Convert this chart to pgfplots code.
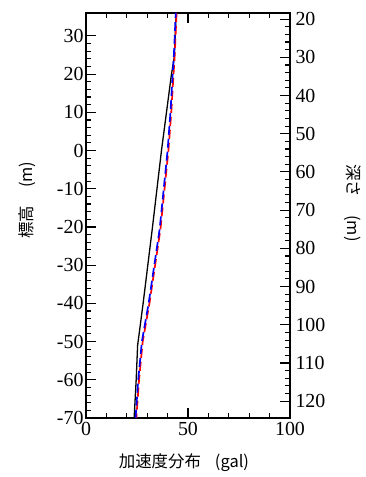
\documentclass[border=0pt]{standalone}
\usepackage{fontspec}
\setmainfont{Liberation Serif}
\newfontfamily\jp{Noto Sans CJK JP}
\usepackage{pgfplots}
\pgfplotsset{compat=1.18}
\begin{document}
\begin{tikzpicture}
\pgfplotsset{
  common/.style={
    scale only axis, width=204bp, height=405bp, at={(0,0)}, anchor=south west,
    tick align=inside, major tick length=10bp, minor tick length=5bp,
    every tick/.style={line width=1.1pt, black},
    axis line style={line width=1.2pt},
    /pgf/number format/assume math mode=true,
    tick label style={font=\fontsize{20}{20}\selectfont},
    xmin=0, xmax=100,
  }
}
\begin{axis}[common,
  ymin=-70, ymax=36,
  xtick={0,50,100}, minor x tick num=4,
  xtick pos=both, xticklabel pos=bottom,
  ytick={-70,-60,...,30}, minor y tick num=4,
  ytick pos=left,
  yticklabel style={xshift=1bp},
  xticklabel style={yshift=-1bp},
  xlabel={\jp 加速度分布\hspace{0.85em}(gal)},
  xlabel style={at={(axis description cs:0.48,-0.109)}, anchor=center, font=\fontsize{16.5}{16.5}\selectfont},
  ylabel={\jp 標高\hspace{1.1em}(m)},
  ylabel style={at={(axis description cs:-0.289,0.538)}, anchor=center, font=\fontsize{16.5}{16.5}\selectfont},
]
\addplot[black, line width=1.3pt] coordinates {
  (44.2,36) (43.3,24.5) (41.9,20) (37.0,0) (32.6,-20) (28.0,-40) (25.3,-51) (24.6,-60) (23.6,-70)
};
\addplot[red, line width=1.7pt, dash pattern=on 9bp off 4bp] coordinates {
  (44.4,36) (43.4,24) (42.9,20) (41.8,10) (40.4,0) (36.5,-20.6) (31.1,-40) (27.8,-50) (26.0,-60) (24.7,-70)
};
\addplot[blue, line width=1.7pt, dash pattern=on 9bp off 4bp, dash phase=4bp] coordinates {
  (44.0,36) (43.0,24) (42.5,20) (41.4,10) (40.0,0) (36.1,-20.6) (30.7,-40) (27.4,-50) (25.6,-60) (24.3,-70)
};
\end{axis}
\begin{axis}[common,
  ymin=18.4, ymax=124.4, y dir=reverse,
  axis x line=none, axis y line*=right,
  ytick={20,30,...,120}, minor y tick num=4,
  yticklabel style={xshift=2bp},
  ylabel={\jp 深さ\hspace{1.1em}(m)},
  ylabel style={at={(axis description cs:1.309,0.531)}, anchor=center, rotate=180, font=\fontsize{16.5}{16.5}\selectfont},
]
\end{axis}
\path (-86bp,-59bp) rectangle (280bp,418bp);
\end{tikzpicture}
\end{document}
